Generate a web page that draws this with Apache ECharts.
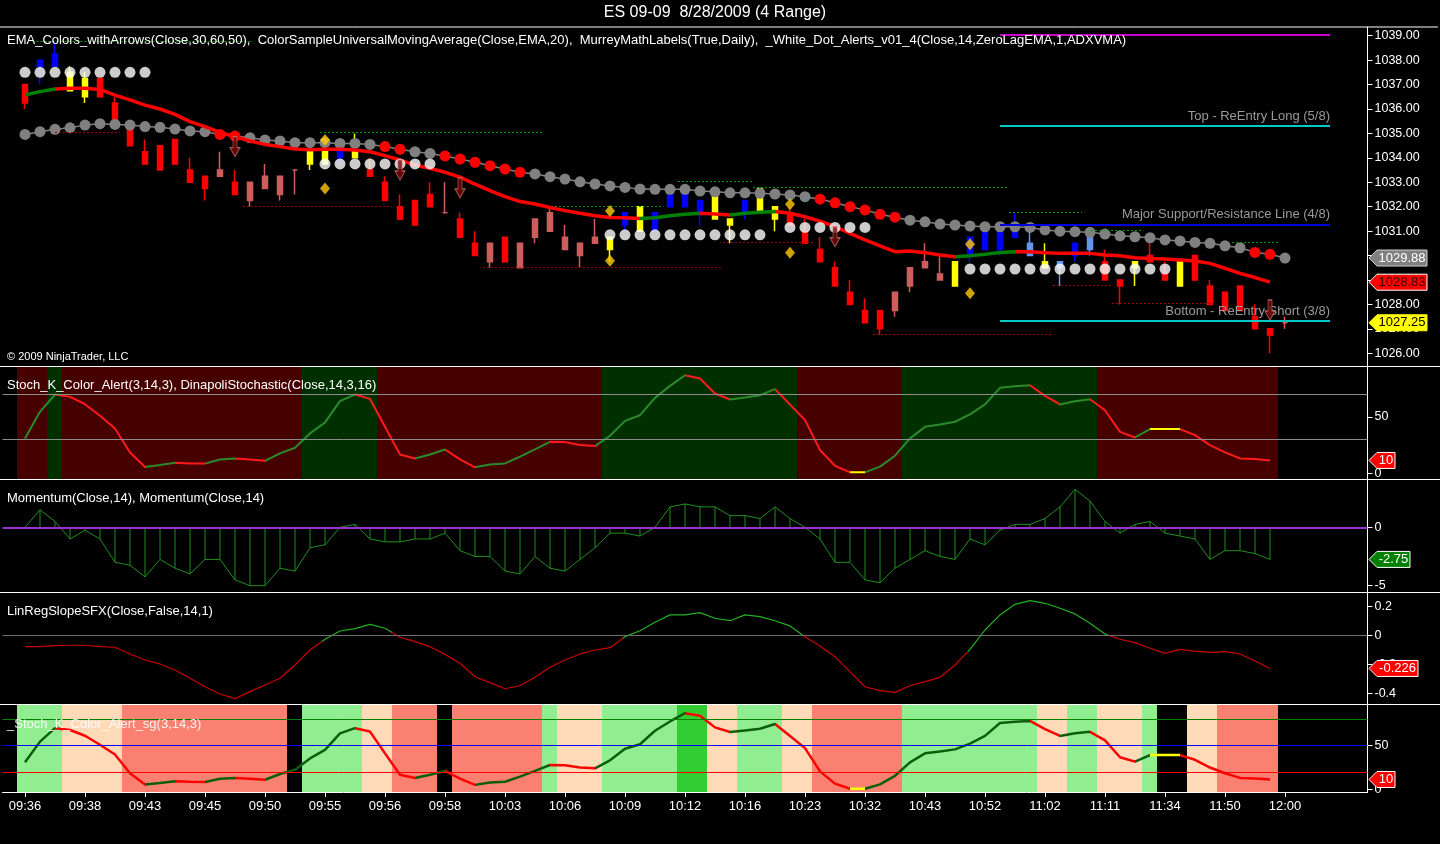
<!DOCTYPE html>
<html><head><meta charset="utf-8">
<script src="https://cdn.jsdelivr.net/npm/echarts@6/dist/echarts.min.js"></script>
<style>html,body{margin:0;padding:0;background:#000;}#c{width:1440px;height:844px;}</style>
</head><body><div id="c"></div>
<script>
// ---------------- DATA ----------------
const timeLabels = ['09:36','09:38','09:43','09:45','09:50','09:55','09:56','09:58','10:03','10:06','10:09','10:12','10:16','10:23','10:32','10:43','10:52','11:02','11:11','11:34','11:50','12:00'];

const openP = [1037.0,1037.75,1037.75,1037.5,1037.25,1037.25,1036.25,1035.25,1034.25,1034.5,1034.75,1033.5,1033.25,1033.25,1033.0,1032.25,1032.75,1032.5,1033.5,1034.25,1034.25,1034.0,1034.25,1033.5,1033.0,1032.0,1032.25,1032.5,1031.75,1031.5,1030.5,1029.75,1030.75,1029.5,1030.75,1031.0,1030.25,1030.0,1030.5,1030.75,1031.25,1032.0,1031.0,1032.0,1032.0,1031.75,1032.5,1031.5,1031.75,1032.75,1032.0,1031.75,1031.0,1030.25,1029.5,1028.5,1027.75,1027.75,1027.75,1028.75,1029.5,1029.0,1029.75,1030.0,1030.25,1030.25,1030.75,1030.0,1029.75,1029.5,1030.0,1030.25,1029.75,1029.0,1029.75,1030.0,1029.25,1029.75,1030.0,1028.75,1028.5,1028.75,1027.5,1027.0,1027.25];
const closeP = [1036.25,1038.0,1038.25,1036.75,1036.5,1036.5,1035.5,1034.5,1033.75,1033.5,1033.75,1033.0,1032.75,1033.5,1032.5,1033.0,1033.25,1033.25,1033.5,1033.75,1033.75,1034.25,1034.0,1033.25,1032.25,1031.5,1031.25,1032.0,1031.75,1030.75,1030.0,1030.5,1029.75,1030.5,1031.5,1031.75,1030.75,1030.5,1030.75,1030.25,1031.75,1031.0,1031.75,1032.5,1032.5,1032.25,1031.5,1031.25,1032.25,1031.75,1031.5,1031.25,1030.5,1029.75,1028.75,1028.0,1027.25,1027.0,1028.5,1029.5,1029.75,1029.25,1028.75,1030.75,1031.0,1031.0,1031.25,1030.5,1029.5,1029.75,1030.5,1030.75,1029.0,1028.75,1029.5,1029.75,1029.0,1028.75,1029.0,1028.0,1027.75,1027.75,1027.0,1026.75,1027.25];
const lowP = [1036.0,1037.0,1037.75,1036.75,1036.25,1036.5,1035.5,1034.5,1033.75,1033.5,1033.75,1033.0,1032.25,1033.25,1032.5,1032.0,1032.75,1032.25,1032.5,1033.5,1033.75,1033.75,1034.0,1033.25,1032.25,1031.5,1031.25,1032.0,1031.75,1030.75,1030.0,1029.5,1029.75,1029.5,1030.5,1031.0,1030.25,1029.5,1030.5,1029.75,1031.0,1031.0,1031.0,1032.0,1032.0,1031.25,1031.5,1030.5,1031.5,1031.75,1031.0,1031.25,1030.5,1029.75,1028.75,1028.0,1027.25,1026.75,1027.5,1028.5,1029.5,1029.0,1028.75,1029.75,1030.25,1030.0,1030.75,1030.0,1029.5,1028.75,1029.75,1030.0,1029.0,1028.0,1028.75,1029.75,1029.0,1028.75,1029.0,1028.0,1027.75,1027.75,1027.0,1026.0,1027.0];
const highP = [1037.0,1038.0,1038.75,1037.75,1037.5,1037.25,1036.5,1035.25,1034.75,1034.5,1034.75,1034.0,1033.25,1034.25,1033.5,1033.0,1033.75,1033.25,1033.5,1034.5,1034.5,1034.5,1035.0,1034.0,1033.25,1032.5,1032.25,1033.0,1033.0,1031.75,1031.0,1030.5,1030.75,1030.5,1031.5,1032.0,1031.25,1030.5,1031.5,1030.75,1031.75,1032.0,1031.75,1032.75,1032.5,1032.25,1032.5,1031.5,1032.25,1032.75,1032.0,1032.0,1031.5,1030.75,1029.75,1029.0,1028.25,1027.75,1028.5,1029.5,1030.5,1030.0,1029.75,1030.75,1031.0,1031.0,1031.75,1031.25,1030.5,1029.75,1030.5,1030.75,1030.25,1029.0,1029.75,1030.5,1029.75,1029.75,1030.0,1029.0,1028.5,1028.75,1028.0,1027.0,1027.5];
// bar paint: R red, P pink, Y yellow, B blue, L light blue
const barPaint = 'RBBYYRRRRRRRRPRPPPPYYBYRRRRRPRRPRPPPPPPYBYBBBBYYBYYRRRRRRRPPPPYBBBBLYLBLRRYRRYRRRRRR';

const emaLine = [1036.57,1036.71,1036.82,1036.85,1036.85,1036.8,1036.57,1036.37,1036.16,1036.0,1035.78,1035.48,1035.28,1035.04,1034.87,1034.69,1034.55,1034.46,1034.36,1034.33,1034.35,1034.35,1034.32,1034.25,1034.09,1033.91,1033.71,1033.57,1033.41,1033.21,1032.92,1032.66,1032.41,1032.21,1032.11,1031.97,1031.84,1031.73,1031.63,1031.56,1031.55,1031.52,1031.55,1031.63,1031.69,1031.73,1031.7,1031.66,1031.73,1031.77,1031.8,1031.73,1031.59,1031.41,1031.18,1030.91,1030.64,1030.4,1030.16,1030.19,1030.12,1030.02,1029.95,1029.99,1030.05,1030.13,1030.16,1030.16,1030.12,1030.09,1030.09,1030.09,1030.02,1029.99,1029.91,1029.88,1029.86,1029.82,1029.78,1029.68,1029.48,1029.27,1029.1,1028.91];
const emaGreenRanges = [[0,2],[41,45],[47,50],[62,66]];

const vmaLine = [1034.96,1035.07,1035.17,1035.23,1035.34,1035.4,1035.37,1035.34,1035.28,1035.25,1035.18,1035.1,1035.07,1034.96,1034.89,1034.82,1034.73,1034.69,1034.62,1034.62,1034.62,1034.59,1034.59,1034.55,1034.46,1034.35,1034.25,1034.18,1034.08,1033.95,1033.82,1033.68,1033.54,1033.41,1033.34,1033.23,1033.13,1033.02,1032.93,1032.85,1032.79,1032.72,1032.71,1032.71,1032.71,1032.64,1032.61,1032.57,1032.57,1032.55,1032.52,1032.48,1032.41,1032.31,1032.16,1032.0,1031.87,1031.69,1031.57,1031.45,1031.38,1031.29,1031.25,1031.21,1031.18,1031.18,1031.18,1031.15,1031.05,1031.0,1030.98,1030.95,1030.88,1030.81,1030.77,1030.73,1030.64,1030.6,1030.54,1030.5,1030.4,1030.32,1030.13,1030.05,1029.9];
const vmaRedBars = [13,14,24,25,28,29,30,31,32,33,53,54,55,56,57,58,82,83];

const whiteRunStart = [0,20,39,51,63];
const whiteRunEnd   = [8,27,49,56,76];
const whiteRunPrice = [1037.5,1033.75,1030.85,1031.15,1029.45];

const diamondBars   = [20,20,39,39,51,51,63,63];
const diamondPrices = [1034.73,1032.75,1031.82,1029.79,1032.1,1030.12,1030.46,1028.46];

const arrowBars   = [14,25,29,54,83];
const arrowPrices = [1034.46,1033.5,1032.77,1030.77,1027.77];

const swingStart = [0.5,2,19.67,14.53,35.33,30.53,43.53,48.53,46.53,56.53,65.6,71.07,80.47,68.53,72.47];
const swingEnd   = [15.2,6.33,34.47,24.47,42.47,46.53,48.47,65.47,52.53,68.47,70.47,74.53,83.53,72.47,79.27];
const swingPrice = [1038.78,1035.05,1035.05,1032.0,1032.0,1029.52,1033.05,1032.8,1030.54,1026.78,1031.77,1031.05,1030.54,1028.8,1028.05];
const swingKind  = ['H','L','H','L','H','L','H','H','L','L','H','H','H','L','L'];

const murreyPrices = [1039.05,1035.3,1031.28,1027.32];
const murreyNames  = ['','Top - ReEntry Long (5/8)','Major Support/Resistance Line (4/8)','Bottom - ReEntry Short (3/8)'];
const murreyFrom = 65, murreyTo = 87;

const stochK = [30.9,54.4,69.7,67.6,61.1,50.9,39.7,18.5,5.6,7.3,9.4,8.8,8.6,12.3,13.2,12.3,11.1,17.6,22.6,35.3,45,63.8,69.7,65.8,41.1,16.7,13.2,16.7,21.1,12.3,5.3,7.9,8.8,14.7,21.1,27.9,27.6,25,24.1,33.2,46.4,51.4,66.7,77.3,86.7,83.8,70.6,65.3,67,69.1,74.4,60.8,47,20.6,6.7,0.9,0.9,5.9,15.6,30.9,41.1,43.2,45.6,52.1,60.9,75.6,77,77.9,68.5,60.9,63.8,65.5,55.8,36.7,31.7,39.1,39.1,39.1,33.8,25,18.5,13.2,12.6,11.4];
const stochBgRuns = [['R',2],['G',1],['R',16],['G',5],['R',15],['G',13],['R',7],['G',13],['R',12]];

const momentum = [0,1.5,0.5,-1,-0.25,-1,-3,-3.25,-4.25,-2.75,-3.5,-4,-2.75,-2.75,-4.5,-5,-5,-3.5,-3.75,-1.75,-1.5,0,0.25,-1,-1.25,-1.25,-1,-1,-0.5,-2,-2.5,-2.5,-3.75,-4,-2.5,-3.5,-3.75,-2.75,-1.75,-0.5,-0.5,-0.75,0,1.75,2,1.75,1.75,1,1,0.75,1.75,0.75,0,-1,-3,-3,-4.5,-4.75,-3.5,-2.75,-2,-2.5,-2.75,-1,-1.5,-0.25,0.25,0.25,0.75,1.75,3.25,2.25,0.5,-0.5,0.25,0.5,-0.5,-0.75,-1,-2.75,-2,-2,-2.25,-2.75];

const linReg = [-0.076,-0.076,-0.069,-0.066,-0.066,-0.076,-0.08,-0.126,-0.168,-0.195,-0.237,-0.294,-0.352,-0.402,-0.434,-0.386,-0.34,-0.294,-0.202,-0.099,-0.025,0.032,0.048,0.078,0.051,-0.011,-0.041,-0.076,-0.129,-0.19,-0.283,-0.324,-0.366,-0.345,-0.287,-0.218,-0.168,-0.126,-0.099,-0.083,-0.007,0.034,0.092,0.143,0.143,0.159,0.12,0.103,0.143,0.131,0.103,0.067,-0.007,-0.071,-0.145,-0.248,-0.352,-0.379,-0.391,-0.345,-0.317,-0.287,-0.202,-0.094,0.039,0.143,0.216,0.241,0.223,0.189,0.15,0.085,0.011,-0.025,-0.048,-0.087,-0.122,-0.094,-0.106,-0.115,-0.11,-0.126,-0.175,-0.226];
const lrGreenRanges = [[19.8,24.5],[39.9,51.9],[62.9,72.2]];

const sgBgRuns = [['LG',3],['PE',4],['SA',11],['K',1],['LG',4],['PE',2],['SA',3],['K',1],['SA',6],['LG',1],['PE',3],['LG',5],['BG',2],['PE',2],['LG',3],['PE',2],['SA',6],['LG',9],['PE',2],['LG',2],['PE',3],['LG',1],['K',2],['PE',2],['SA',4]];

const priceTagTexts = ['1029.88','1028.83','1027.25'];
const stochTagText = '10';
const momTagText = '-2.75';
const lrTagText = '-0.226';

// ---------------- STYLE / LAYOUT ----------------
const FONT = '"Liberation Sans", Arial, sans-serif';
const X_MIN = -1.5, X_MAX = 89.5;
const paintColor = {R:'#ff0000', P:'#cd5c5c', Y:'#ffff00', B:'#0000ff', L:'#6495ed'};
const stochBgColor = {R:'#470000', G:'#003000'};
const sgBgColor = {LG:'#90ee90', PE:'#ffdab9', SA:'#fa8072', BG:'#32cd32', K:'#000000'};
const panels = [{top:27,height:339},{top:367,height:112},{top:480,height:112},{top:593,height:111},{top:705,height:87}];

function pairs(arr){ return arr.map((v,i)=>[i,v]); }
function expandRuns(runs){ const out=[]; runs.forEach(r=>{for(let k=0;k<r[1];k++) out.push(r[0]);}); return out; }
function dirPieces(vals, up, down, flat){
  const p=[];
  for(let i=1;i<vals.length;i++){
    const c = vals[i]>vals[i-1]?up:(vals[i]<vals[i-1]?down:flat);
    const last=p[p.length-1];
    if(last && last.color===c) last.lte=i; else p.push({gt:i-1,lte:i,color:c});
  }
  p[0]={gte:-10,lte:p[0].lte,color:p[0].color};
  p[p.length-1].lte=200;
  return p;
}
const tickVals = timeLabels.map((_,k)=>k*4);

const xAxes = panels.map((p,k)=>({
  type:'value', gridIndex:k, min:X_MIN, max:X_MAX, show:k===4,
  splitLine:{show:false},
  axisLine:{show:true,onZero:false,lineStyle:{color:'#fff',width:1}},
  axisTick:{show:true,customValues:tickVals,length:5,lineStyle:{color:'#fff'}},
  axisLabel:{show:true,customValues:tickVals,formatter:v=>timeLabels[Math.round(v/4)],color:'#fff',fontSize:13,margin:8,fontFamily:FONT}
}));
function yAx(grid,min,max,ticks,fmt){
  return {type:'value',gridIndex:grid,position:'right',min,max,
    splitLine:{show:false},
    axisLine:{show:true,onZero:false,lineStyle:{color:'#fff',width:1}},
    axisTick:{show:true,customValues:ticks,length:5,lineStyle:{color:'#fff'}},
    axisLabel:{show:true,customValues:ticks,formatter:fmt,color:'#fff',fontSize:12.5,margin:7,fontFamily:FONT}};
}
const priceTicks=[1026,1027,1028,1029,1030,1031,1032,1033,1034,1035,1036,1037,1038,1039];
const yAxes=[
  yAx(0,1025.48,1039.356,priceTicks,v=>v.toFixed(2)),
  yAx(1,-5,94,[0,50],v=>String(v)),
  {type:'value',gridIndex:1,min:0,max:1,show:false},
  yAx(2,-5.54,4.05,[-5,0],v=>String(v)),
  yAx(3,-0.471,0.294,[-0.4,-0.2,0,0.2],v=>String(parseFloat(v.toFixed(1)))),
  yAx(4,-2.8,96,[0,50],v=>String(v)),
  {type:'value',gridIndex:4,min:0,max:1,show:false}
];

// candles
const candleData = openP.map((o,i)=>{
  const c = paintColor[barPaint[i]];
  return {value:[i,o,closeP[i],lowP[i],highP[i]],itemStyle:{color:c,color0:c,borderColor:c,borderColor0:c,borderColorDoji:c}};
});
const vmaData = vmaLine.map((v,i)=> vmaRedBars.indexOf(i)>=0 ? {value:[i,v],itemStyle:{color:'#ff0000'}} : {value:[i,v]});
const whiteData=[];
whiteRunStart.forEach((s,k)=>{for(let i=s;i<=whiteRunEnd[k];i++) whiteData.push([i,whiteRunPrice[k]]);});
const diamondData = diamondBars.map((b,k)=>[b,diamondPrices[k]]);
const arrowData = arrowBars.map((b,k)=>[b,arrowPrices[k]]);

const levelLines = swingStart.map((s,k)=>[
  {coord:[s,swingPrice[k]],lineStyle:{color:swingKind[k]==='H'?'#00a000':'#a00000',type:[2,2],width:1},label:{show:false}},
  {coord:[swingEnd[k],swingPrice[k]]}
]).concat(murreyPrices.map((p,k)=>[
  {coord:[murreyFrom,p],lineStyle:{color:k===0?'#cc00cc':(k===2?'#0000dd':'#00c8c8'),type:'solid',width:2},
   label:{show:!!murreyNames[k],formatter:murreyNames[k],position:'insideEndTop',color:'#9a9a9a',fontSize:13,fontFamily:FONT,distance:[0,3]}},
  {coord:[murreyTo,p]}
]));

const stochBgData = expandRuns(stochBgRuns).map((c,i)=>({value:[i,1],itemStyle:{color:stochBgColor[c]}}));
const sgBgData = expandRuns(sgBgRuns).map((c,i)=>({value:[i,1],itemStyle:{color:sgBgColor[c]}}));

const arrowPath='path://M3,0 L7,0 L7,11 L10,11 L5,20 L0,11 L3,11 Z';

const series=[
  {type:'line',name:'levels',xAxisIndex:0,yAxisIndex:0,data:[],z:1,silent:true,
   markLine:{silent:true,symbol:['none','none'],animation:false,label:{show:false},data:levelLines}},
  {type:'candlestick',xAxisIndex:0,yAxisIndex:0,data:candleData,encode:{x:0,y:[1,2,3,4]},barWidth:6,z:2,
   itemStyle:{borderWidth:1.5}},
  {type:'line',xAxisIndex:0,yAxisIndex:0,data:vmaData,symbol:'circle',symbolSize:11,showSymbol:true,showAllSymbol:true,
   itemStyle:{color:'#808080'},lineStyle:{color:'#808080',width:1.5},z:3},
  {type:'line',xAxisIndex:0,yAxisIndex:0,data:pairs(emaLine),symbol:'none',lineStyle:{width:3.5},z:4},
  {type:'scatter',xAxisIndex:0,yAxisIndex:0,data:whiteData,symbol:'circle',symbolSize:11,itemStyle:{color:'#ffffff'},z:5},
  {type:'scatter',xAxisIndex:0,yAxisIndex:0,data:diamondData,symbol:'diamond',symbolSize:[10,12],itemStyle:{color:'#ffcc00'},z:6},
  {type:'scatter',xAxisIndex:0,yAxisIndex:0,data:arrowData,symbol:arrowPath,symbolSize:[10,20],
   itemStyle:{color:'#7a0808',borderColor:'#c87070',borderWidth:1},z:7},
  // panel 2
  {type:'bar',xAxisIndex:1,yAxisIndex:2,data:stochBgData,barWidth:16,z:0,silent:true},
  {type:'line',xAxisIndex:1,yAxisIndex:1,data:[],z:1,silent:true,
   markLine:{silent:true,symbol:['none','none'],animation:false,label:{show:false},lineStyle:{color:'#8c8c8c',type:'solid',width:1},data:[{yAxis:70},{yAxis:30}]}},
  {type:'line',xAxisIndex:1,yAxisIndex:1,data:pairs(stochK),symbol:'none',lineStyle:{width:2},z:2},
  // panel 3
  {type:'bar',xAxisIndex:2,yAxisIndex:3,data:pairs(momentum),barWidth:1,itemStyle:{color:'#1f8f1f'},z:1},
  {type:'line',xAxisIndex:2,yAxisIndex:3,data:pairs(momentum),symbol:'none',lineStyle:{color:'#1f8f1f',width:1},z:2,
   markLine:{silent:true,symbol:['none','none'],animation:false,label:{show:false},lineStyle:{color:'#9932cc',type:'solid',width:2},data:[{yAxis:0}]}},
  // panel 4
  {type:'line',xAxisIndex:3,yAxisIndex:4,data:pairs(linReg),symbol:'none',lineStyle:{width:1.2},z:2,
   markLine:{silent:true,symbol:['none','none'],animation:false,label:{show:false},lineStyle:{color:'#6e6e6e',type:'solid',width:1},data:[{yAxis:0}]}},
  // panel 5
  {type:'bar',xAxisIndex:4,yAxisIndex:6,data:sgBgData,barWidth:16,z:0,silent:true},
  {type:'line',xAxisIndex:4,yAxisIndex:5,data:[],z:1,silent:true,
   markLine:{silent:true,symbol:['none','none'],animation:false,label:{show:false},
     data:[{yAxis:80,lineStyle:{color:'#008000',type:'solid',width:1}},{yAxis:50,lineStyle:{color:'#0000ff',type:'solid',width:1}},{yAxis:20,lineStyle:{color:'#ff0000',type:'solid',width:1}}]}},
  {type:'line',xAxisIndex:4,yAxisIndex:5,data:pairs(stochK),symbol:'none',lineStyle:{width:2.5},z:2}
];

const visualMaps=[
  {type:'piecewise',show:false,seriesIndex:3,dimension:0,pieces:emaGreenRanges.map(r=>({gte:r[0],lte:r[1],color:'#008000'})),outOfRange:{color:'#ff0000'}},
  {type:'piecewise',show:false,seriesIndex:9,dimension:0,pieces:dirPieces(stochK,'#2a8a2a','#ff1a1a','#ffff00')},
  {type:'piecewise',show:false,seriesIndex:12,dimension:0,pieces:lrGreenRanges.map(r=>({gte:r[0],lte:r[1],color:'#22b022'})),outOfRange:{color:'#c80000'}},
  {type:'piecewise',show:false,seriesIndex:15,dimension:0,pieces:dirPieces(stochK,'#0b5e0b','#ff0000','#ffff00')}
];

const chart = echarts.init(document.getElementById('c'));
chart.setOption({
  backgroundColor:'#000',
  animation:false,
  grid:panels.map(p=>({left:2.5,right:72.5,top:p.top,height:p.height,containLabel:false,outerBoundsMode:'none'})),
  xAxis:xAxes, yAxis:yAxes, visualMap:visualMaps, series:series
});

// ---------- graphic overlays: texts, separators, value tags ----------
function txt(x,y,text,size,align,color){
  return {type:'text',x,y,z:100,silent:true,style:{text,fill:color||'#fff',font:size+'px '+FONT,textAlign:align||'left',verticalAlign:'middle',textVerticalAlign:'middle'}};
}
function hline(y,x1,x2){
  return {type:'line',z:90,silent:true,shape:{x1,y1:y,x2,y2:y},style:{stroke:'#fff',lineWidth:1}};
}
function tag(y,text,bg,fg,w,stroke){
  const x0=1369,h=8;
  return {type:'group',z:110,children:[
    {type:'polygon',z:110,shape:{points:[[x0,y],[x0+8,y-h],[x0+8+w,y-h],[x0+8+w,y+h],[x0+8,y+h]]},style:{fill:bg,stroke:stroke||bg,lineWidth:1}},
    {type:'text',z:111,x:x0+8+w/2,y:y,style:{text,fill:fg,font:'13px '+FONT,textAlign:'center',verticalAlign:'middle',textVerticalAlign:'middle'}}
  ]};
}
const py = (axis,val)=>chart.convertToPixel({yAxisIndex:axis},val);
const graphics=[
  txt(715,13,'ES 09-09  8/28/2009 (4 Range)',16,'center'),
  txt(7,40,'EMA_Colors_withArrows(Close,30,60,50),  ColorSampleUniversalMovingAverage(Close,EMA,20),  MurreyMathLabels(True,Daily),  _White_Dot_Alerts_v01_4(Close,14,ZeroLagEMA,1,ADXVMA)',13),
  txt(7,357,'\u00A9 2009 NinjaTrader, LLC',11),
  txt(7,385,'Stoch_K_Color_Alert(3,14,3), DinapoliStochastic(Close,14,3,16)',13),
  txt(7,498,'Momentum(Close,14), Momentum(Close,14)',13),
  txt(7,611,'LinRegSlopeSFX(Close,False,14,1)',13),
  txt(7,724,'_Stoch_K_Color_Alert_sg(3,14,3)',13,'left','rgba(255,255,255,0.9)'),
  hline(27,0,1438), hline(366.5,0,1440), hline(479.5,0,1440), hline(592.5,0,1440), hline(704.5,0,1440),
  tag(py(0,vmaLine[vmaLine.length-1]),priceTagTexts[0],'#808080','#fff',50,'#d0d0d0'),
  tag(py(0,emaLine[emaLine.length-1]),priceTagTexts[1],'#ff0000','#400000',50,'#ffffff'),
  tag(py(0,closeP[closeP.length-1]),priceTagTexts[2],'#ffff00','#000',50),
  tag(py(1,stochK[stochK.length-1]),stochTagText,'#ff0000','#fff',18,'#ffffff'),
  tag(py(3,momentum[momentum.length-1]),momTagText,'#008000','#fff',33,'#ffffff'),
  tag(py(4,linReg[linReg.length-1]),lrTagText,'#ff0000','#fff',41,'#ffffff'),
  tag(py(5,stochK[stochK.length-1]),stochTagText,'#ff0000','#fff',18,'#ffffff')
];
chart.setOption({graphic:graphics});
</script>
</body></html>
